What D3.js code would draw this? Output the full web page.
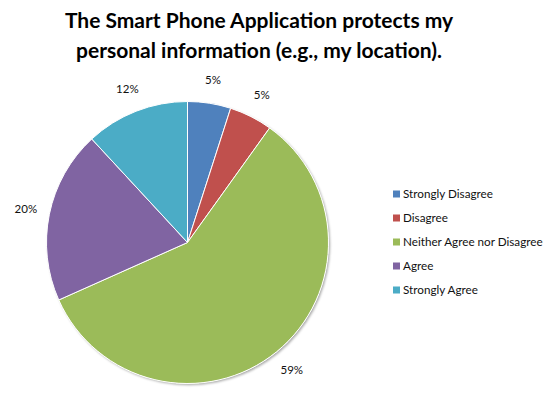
<!DOCTYPE html>
<html>
<head>
<meta charset="utf-8">
<script src="https://cdn.jsdelivr.net/npm/d3@7"></script>
<style>
  body { margin: 0; background: #fff; }
  text { font-family: Lato, "Open Sans", sans-serif; }
</style>
</head>
<body>
<svg></svg>
<script>
let categories = ['Strongly Disagree', 'Disagree', 'Neither Agree nor Disagree', 'Agree', 'Strongly Agree']
let values = [5, 5, 59, 20, 12]
let labels = ['5%', '5%', '59%', '20%', '12%']
let colors = ['#4F81BD', '#C0504D', '#9BBB59', '#8064A2', '#4BACC6']
let titleLines = ['The Smart Phone Application protects my', 'personal information (e.g., my location).']

let width = 556
let height = 408
let cx = 187.5
let cy = 242.5
let radius = 141

let svg = d3.select('svg')
  .attr('width', width)
  .attr('height', height)

let defs = svg.append('defs')
let filter = defs.append('filter').attr('id', 'shadow')
  .attr('x', '-10%').attr('y', '-10%').attr('width', '120%').attr('height', '120%')
filter.append('feDropShadow')
  .attr('dx', 1.5).attr('dy', 1.5).attr('stdDeviation', 1.2)
  .attr('flood-color', '#000').attr('flood-opacity', 0.35)

svg.append('g')
  .selectAll('text')
  .data(titleLines)
  .enter()
  .append('text')
  .attr('x', 259)
  .attr('y', (d, i) => 28 + i * 30)
  .attr('text-anchor', 'middle')
  .style('font-size', '21px')
  .style('font-weight', 'bold')
  .text(d => d)

let pie = d3.pie().sort(null).value(d => d)
let arcs = pie(values)

let arc = d3.arc().innerRadius(0).outerRadius(radius)
let labelArc = d3.arc().innerRadius(165).outerRadius(165)

let g = svg.append('g').attr('transform', 'translate(' + cx + ',' + cy + ')')

g.append('circle')
  .attr('r', radius)
  .attr('fill', '#fff')
  .attr('filter', 'url(#shadow)')

g.selectAll('path')
  .data(arcs)
  .enter()
  .append('path')
  .attr('d', arc)
  .attr('fill', (d, i) => colors[i])
  .attr('stroke', '#fff')
  .attr('stroke-width', 1)

g.selectAll('.lbl')
  .data(arcs)
  .enter()
  .append('text')
  .attr('class', 'lbl')
  .attr('x', d => labelArc.centroid(d)[0])
  .attr('y', d => labelArc.centroid(d)[1] + 4)
  .attr('text-anchor', 'middle')
  .style('font-size', '11.5px')
  .style('fill', '#111')
  .text((d, i) => labels[i])

let legend = svg.append('g').attr('transform', 'translate(393, 194)')
let rows = legend.selectAll('g')
  .data(categories)
  .enter()
  .append('g')
  .attr('transform', (d, i) => 'translate(0,' + (i * 24) + ')')

rows.append('rect')
  .attr('x', 0)
  .attr('y', -3.5)
  .attr('width', 7)
  .attr('height', 7)
  .attr('fill', (d, i) => colors[i])

rows.append('text')
  .attr('x', 10)
  .attr('y', 4)
  .style('font-size', '11.7px')
  .style('fill', '#111')
  .text(d => d)
</script>
</body>
</html>
